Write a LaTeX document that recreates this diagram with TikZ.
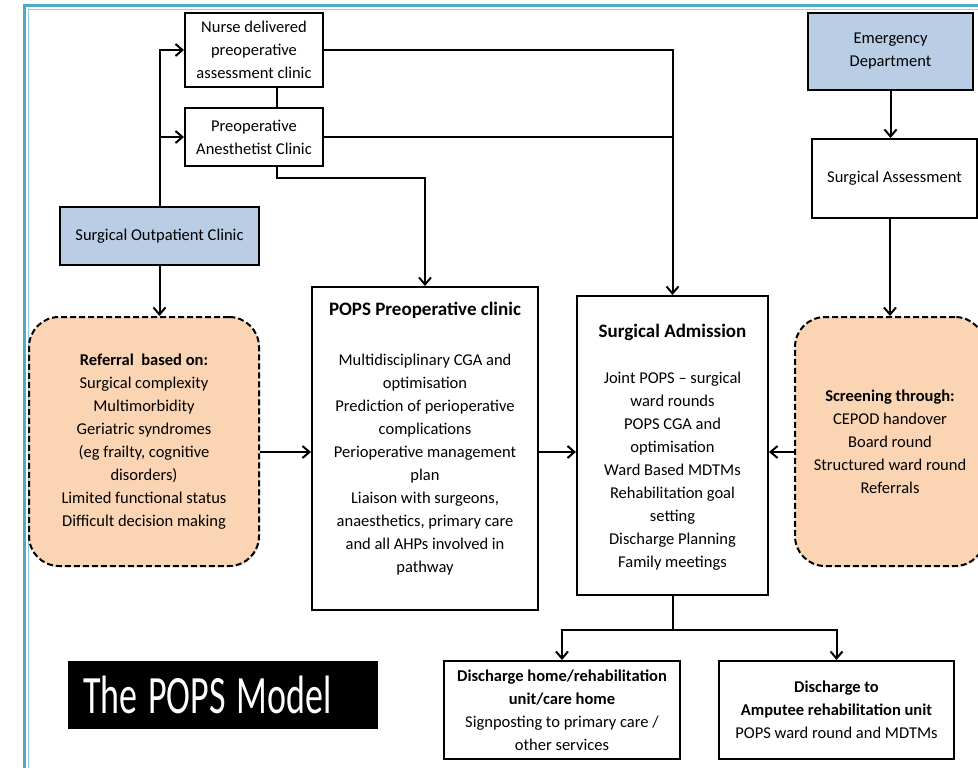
\documentclass[tikz,border=0pt]{standalone}
\usepackage{fontspec}
\usepackage{graphicx}
\setmainfont{Carlito}
\usetikzlibrary{arrows.meta,shadows}

\definecolor{popsblue}{HTML}{B9CDE5}
\definecolor{popsorange}{HTML}{FBD4B4}
\definecolor{popsframe}{HTML}{4BACC6}
\definecolor{popsframelight}{HTML}{92CDDC}

\tikzset{
  stage/.style={draw, line width=2pt, fill=white, align=center, inner sep=3pt,
    font=\fontsize{16.5}{23}\selectfont,
    drop shadow={opacity=0.25, shadow xshift=1.2pt, shadow yshift=-1.2pt}},
  entry/.style={stage, fill=popsblue},
  screenbox/.style={stage, fill=popsorange, dash pattern=on 6pt off 3pt, rounded corners=30pt},
  boxtext/.style={align=center, font=\fontsize{16.5}{23}\selectfont},
  headtext/.style={font=\fontsize{19}{23}\selectfont\bfseries},
  link/.style={line width=2pt},
  flow/.style={link, -{Straight Barb[length=7pt,width=12pt]}},
}

\begin{document}
\begin{tikzpicture}[x=1pt, y=-1pt]
  \useasboundingbox (0,0) rectangle (978,768);
  \clip (0,0) rectangle (978,768);

  %----- FRAME -----
  \draw[popsframe, line width=3pt] (24.5,768) -- (24.5,5.5) -- (978,5.5);
  \draw[popsframelight, line width=1pt] (28.5,768) -- (28.5,9.5) -- (978,9.5);

  %----- ENTRY POINTS -----
  \node[entry, minimum width=199pt, minimum height=58pt] (outpatient) at (159.5,236)
    {Surgical Outpatient Clinic};
  \node[entry, minimum width=165pt, minimum height=77pt] (emergency) at (890.5,51.5)
    {Emergency\\Department};

  %----- PREOPERATIVE CLINICS -----
  \node[stage, minimum width=138pt, minimum height=74pt] (nurse) at (254,50)
    {Nurse delivered\\preoperative\\assessment clinic};
  \node[stage, minimum width=138pt, minimum height=58pt] (anaesth) at (254,137)
    {Preoperative\\Anesthetist Clinic};
  \node[stage, minimum width=165pt, minimum height=79pt] (assess) at (894.5,178.5)
    {Surgical Assessment};

  %----- SCREENING -----
  \node[screenbox, minimum width=230pt, minimum height=249pt] (referral) at (144,441.5)
    {\textbf{Referral~ based on:}\\Surgical complexity\\Multimorbidity\\Geriatric syndromes\\
     (eg frailty, cognitive\\disorders)\\Limited functional status\\Difficult decision making};
  \node[screenbox, minimum width=190pt, minimum height=249pt] (screening) at (890,441.5)
    {\textbf{Screening through:}\\CEPOD handover\\Board round\\Structured ward round\\Referrals};

  %----- POPS CLINIC AND ADMISSION -----
  \node[stage, minimum width=226pt, minimum height=323pt] (popsclinic) at (425,448.5) {};
  \node[headtext] (popshead) at (425,310) {POPS Preoperative clinic};
  \node[boxtext] (popsbody) at (425,465)
    {Multidisciplinary CGA and\\optimisation\\Prediction of perioperative\\complications\\
     Perioperative management\\plan\\Liaison with surgeons,\\anaesthetics, primary care\\
     and all AHPs involved in\\pathway};

  \node[stage, minimum width=191pt, minimum height=299pt] (admission) at (672.5,445.5) {};
  \node[headtext] (admhead) at (672.5,332) {Surgical Admission};
  \node[boxtext] (admbody) at (672.5,471)
    {Joint POPS -- surgical\\ward rounds\\POPS CGA and\\optimisation\\Ward Based MDTMs\\
     Rehabilitation goal\\setting\\Discharge Planning\\Family meetings};

  %----- DISCHARGE -----
  \node[stage, minimum width=236pt, minimum height=98pt] (dischome) at (562,710)
    {\textbf{Discharge home/rehabilitation}\\\textbf{unit/care home}\\
     Signposting to primary care /\\other services};
  \node[stage, minimum width=235pt, minimum height=98pt] (discamp) at (836.5,710)
    {\textbf{Discharge to}\\\textbf{Amputee rehabilitation unit}\\POPS ward round and MDTMs};

  %----- TITLE -----
  \node[fill=black, text=white, minimum height=68pt, text width=280pt, inner xsep=15pt,
        align=left] (title) at (223,695)
    {\scalebox{1}[1.5]{\fontsize{36}{36}\selectfont The\hspace{11pt}POPS\hspace{11pt}Model}};

  %----- CONNECTORS -----
  \coordinate (midrow) at (0,452);
  \draw[link] ([xshift=23pt]nurse.south) -- ([xshift=23pt]anaesth.north);
  \draw[flow] (outpatient.north) |- (nurse.west);
  \draw[flow] (outpatient.north |- anaesth.west) -- (anaesth.west);
  \draw[flow] (outpatient.south) -- (outpatient.south |- referral.north);
  \draw[flow] (nurse.east) -| (admission.north);
  \draw[link] (anaesth.east) -- (anaesth.east -| admission.north);
  \draw[flow] ([xshift=23pt]anaesth.south) -- ++(0,11) -| (popsclinic.north);
  \draw[flow] (emergency.south) -- (emergency.south |- assess.north);
  \draw[flow] (screening.north |- assess.south) -- (screening.north);
  \draw[flow] (referral.east |- midrow) -- (popsclinic.west |- midrow);
  \draw[flow] (popsclinic.east |- midrow) -- (admission.west |- midrow);
  \draw[flow] (screening.west |- midrow) -- (admission.east |- midrow);
  \draw[link] (admission.south) -- ++(0,34) coordinate (fork);
  \draw[flow] (fork) -| (dischome.north);
  \draw[flow] (fork) -| (discamp.north);

\end{tikzpicture}
\end{document}
